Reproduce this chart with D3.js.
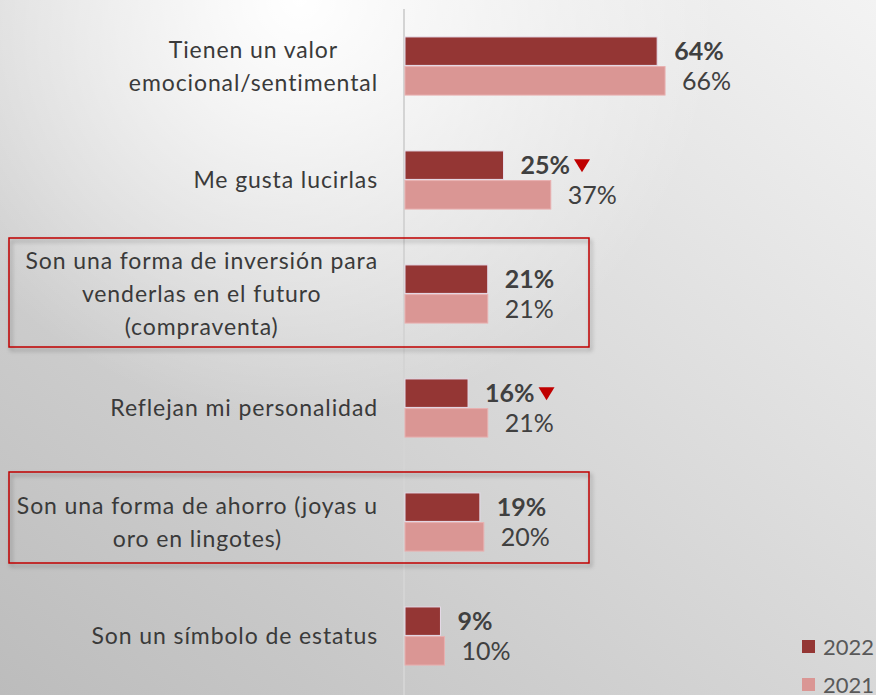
<!DOCTYPE html>
<html>
<head>
<meta charset="utf-8">
<script src="https://cdn.jsdelivr.net/npm/d3@7"></script>
<style>
  html, body { margin: 0; padding: 0; overflow: hidden; }
  body { width: 876px; height: 695px; }
  text { font-family: Lato, "Open Sans", sans-serif; }
</style>
</head>
<body>
<div id="chart"></div>
<script>
// Categories (line breaks as in the original label wrapping)
var categories = [
  "Tienen un valor\nemocional/sentimental",
  "Me gusta lucirlas",
  "Son una forma de inversión para\nvenderlas en el futuro\n(compraventa)",
  "Reflejan mi personalidad",
  "Son una forma de ahorro (joyas u\noro en lingotes)",
  "Son un símbolo de estatus"
];
var series = ["2022", "2021"];
var values2022 = [64, 25, 21, 16, 19, 9];
var values2021 = [66, 37, 21, 21, 20, 10];
// categories with a significant drop vs 2021
var drops = ["Me gusta lucirlas", "Reflejan mi personalidad"];
// categories framed in red
var highlighted = [categories[2], categories[4]];

var colors = {"2022": "#943634", "2021": "#da9694"};

var width = 876, height = 695;

var svg = d3.select("#chart")
  .append("svg")
  .attr("width", width)
  .attr("height", height);

// Background gradient
var defs = svg.append("defs");
var lg = defs.append("linearGradient")
  .attr("id", "bg")
  .attr("x1", "100%").attr("y1", "0%")
  .attr("x2", "0%").attr("y2", "100%");
lg.append("stop").attr("offset", "0%").attr("stop-color", "#f3f3f3");
lg.append("stop").attr("offset", "100%").attr("stop-color", "#bcbcbc");

var rg = defs.append("radialGradient")
  .attr("id", "glow")
  .attr("gradientUnits", "userSpaceOnUse")
  .attr("cx", 300).attr("cy", 0).attr("r", 420);
rg.append("stop").attr("offset", "0%").attr("stop-color", "#ffffff").attr("stop-opacity", 1);
rg.append("stop").attr("offset", "100%").attr("stop-color", "#ffffff").attr("stop-opacity", 0);

var shadow = defs.append("filter").attr("id", "shadow")
  .attr("x", "-5%").attr("y", "-20%").attr("width", "110%").attr("height", "140%");
shadow.append("feDropShadow")
  .attr("dx", 2).attr("dy", 3).attr("stdDeviation", 2)
  .attr("flood-color", "#000").attr("flood-opacity", 0.35);

svg.append("rect").attr("width", width).attr("height", height).attr("fill", "url(#bg)");
svg.append("rect").attr("width", width).attr("height", height).attr("fill", "url(#glow)");

// Scales
var x = d3.scaleLinear()
  .domain([0, 100])
  .range([405, 799]);

var y0 = d3.scaleBand()
  .domain(categories)
  .range([9, 693])
  .paddingInner(0.49)
  .paddingOuter(0.245);

var y1 = d3.scaleBand()
  .domain(series)
  .range([0, y0.bandwidth()])
  .paddingInner(0.04);

var data = categories.map(function(c, i) {
  return {cat: c, values: [
    {key: "2022", value: values2022[i]},
    {key: "2021", value: values2021[i]}
  ]};
});

// Vertical axis line
svg.append("line")
  .attr("x1", x(0) - 1).attr("x2", x(0) - 1)
  .attr("y1", 9).attr("y2", height)
  .attr("stroke", "#d4d4d4")
  .attr("stroke-width", 2);

// Red highlight boxes, sized to the number of label lines
svg.selectAll(".hbox")
  .data(highlighted)
  .enter()
  .append("rect")
  .attr("class", "hbox")
  .attr("x", 9)
  .attr("y", function(d) {
    var n = d.split("\n").length;
    return y0(d) + y0.bandwidth() / 2 - 6 * n - 38;
  })
  .attr("width", 580)
  .attr("height", function(d) {
    var n = d.split("\n").length;
    return 18 * n + 55;
  })
  .attr("fill", "none")
  .attr("stroke", "#c00000")
  .attr("stroke-width", 1.5)
  .attr("filter", "url(#shadow)");

// Groups
var groups = svg.selectAll(".grp")
  .data(data)
  .enter()
  .append("g")
  .attr("class", "grp")
  .attr("transform", function(d) { return "translate(0," + y0(d.cat) + ")"; });

groups.selectAll("rect")
  .data(function(d) { return d.values; })
  .enter()
  .append("rect")
  .attr("x", x(0))
  .attr("y", function(d) { return y1(d.key); })
  .attr("width", function(d) { return x(d.value) - x(0); })
  .attr("height", y1.bandwidth())
  .attr("fill", function(d) { return colors[d.key]; })
  .attr("stroke", function(d) { return d.key == "2022" ? "#e6dcea" : "#e8b0b0"; })
  .attr("stroke-width", 1);

// Value labels
groups.each(function(d) {
  var g = d3.select(this);
  d.values.forEach(function(v) {
    var t = g.append("text")
      .attr("x", x(v.value) + 17)
      .attr("y", y1(v.key) + y1.bandwidth() / 2)
      .attr("dy", "0.36em")
      .attr("font-size", "25px")
      .attr("font-weight", v.key == "2022" ? "bold" : "normal")
      .attr("fill", "#404040")
      .text(v.value + "%");
    if (v.key == "2022" && drops.indexOf(d.cat) >= 0) {
      var end = x(v.value) + 17 + t.node().getComputedTextLength() + 4;
      var cy = y1(v.key) + y1.bandwidth() / 2;
      g.append("path")
        .attr("d", "M" + end + "," + (cy - 6) + "L" + (end + 16) + "," + (cy - 6) +
          "L" + (end + 8) + "," + (cy + 7) + "Z")
        .attr("fill", "#c00000");
    }
  });
});

// Category labels: lines centred, block right-aligned to the axis
groups.each(function(d) {
  var g = d3.select(this);
  var lines = d.cat.split("\n");
  var mid = y0.bandwidth() / 2;
  var lh = 33;
  var t = g.append("text")
    .attr("text-anchor", "middle")
    .attr("font-size", "23px")
    .attr("letter-spacing", "0.9px")
    .attr("fill", "#3a3a3a");
  lines.forEach(function(l, i) {
    t.append("tspan")
      .attr("y", mid + (i - (lines.length - 1) / 2) * lh)
      .attr("dy", "0.36em")
      .text(l);
  });
  var maxW = 0;
  t.selectAll("tspan").each(function() {
    maxW = Math.max(maxW, this.getComputedTextLength());
  });
  t.selectAll("tspan").attr("x", x(0) - 27 - maxW / 2);
});

// Legend
var legend = svg.selectAll(".leg")
  .data(series)
  .enter()
  .append("g")
  .attr("class", "leg")
  .attr("transform", function(d, i) { return "translate(802," + (640 + i * 38) + ")"; });

legend.append("rect")
  .attr("width", 13).attr("height", 13)
  .attr("fill", function(d) { return colors[d]; });

legend.append("text")
  .attr("x", 21)
  .attr("y", 7)
  .attr("dy", "0.36em")
  .attr("font-size", "22px")
  .attr("fill", "#595959")
  .text(function(d) { return d; });
</script>
</body>
</html>
